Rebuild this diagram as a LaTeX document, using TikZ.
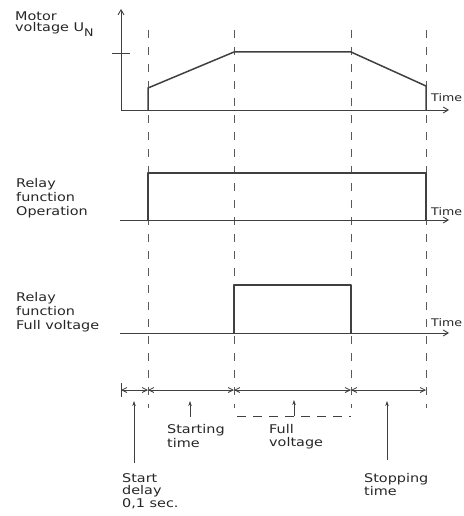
\documentclass[tikz,border=0pt]{standalone}
\usepackage{fontspec}
\setmainfont{DejaVu Sans}[FakeStretch=1.2]
\usetikzlibrary{arrows.meta}
\begin{document}
\begin{tikzpicture}[x=1pt,y=-1pt,
    axis/.style={line width=0.9pt,draw=black!75,-{Straight Barb[length=5pt,width=6pt]}},
    sig/.style={line width=1.5pt,draw=black!75,line join=round},
    guide/.style={line width=0.6pt,draw=black!65,dash pattern=on 8pt off 9pt},
    span/.style={line width=0.8pt,draw=black!75,{Straight Barb[length=5pt,width=5pt]}-{Straight Barb[length=5pt,width=5pt]}},
    ptr/.style={line width=0.8pt,draw=black!75,-{Stealth[length=5pt,width=3.5pt]}},
    lbl/.style={anchor=base west,align=left,inner sep=0pt,text=black!85,font=\fontsize{12}{14}\selectfont},
    timelbl/.style={anchor=base west,inner sep=0pt,text=black!85,font=\fontsize{10.5}{12}\selectfont}]
  \useasboundingbox (0,0) rectangle (463,516);
  \foreach \x in {148,234,351,426}
    \draw[guide] (\x,30) -- (\x,408);
  % motor voltage
  \coordinate (o1) at (121,110);
  \coordinate (e1) at (449,110);
  \draw[axis] (o1) -- (121,9);
  \draw[axis] (o1) -- (e1);
  \draw[line width=0.9pt,black!75] (112,53) -- (130,53);
  \draw[sig] (148,110) -- (148,88) -- (234,52) -- (351,52) -- (426,86) -- (426,110);
  \node[lbl,font=\fontsize{12}{11}\selectfont] (motor) at (15,32) {Motor\\voltage U\raisebox{-5pt}{\fontsize{10.5}{10}\selectfont N}};
  \node[timelbl] (time1) at (431,102) {Time};
  % operation
  \coordinate (o2) at (120,220);
  \coordinate (e2) at (449,220);
  \draw[axis] (o2) -- (e2);
  \draw[sig] (148,220) -- (148,173) -- (426,173) -- (426,220);
  \node[lbl] (oper) at (16,215) {Relay\\function\\Operation};
  \node[timelbl] (time2) at (431,215) {Time};
  % full voltage
  \coordinate (o3) at (120,333);
  \coordinate (e3) at (449,333);
  \draw[axis] (o3) -- (e3);
  \draw[sig] (234,333) -- (234,285) -- (351,285) -- (351,333);
  \node[lbl] (full) at (16,329) {Relay\\function\\Full voltage};
  \node[timelbl] (time3) at (431,326) {Time};
  % time spans
  \foreach \n/\x in {0/121,1/148,2/234,3/351,4/426}
    \coordinate (t\n) at (\x,390);
  \draw[line width=0.8pt,black!75] (121,383) -- (121,397);
  \draw[span] (t0) -- (t1);
  \draw[span] (t1) -- (t2);
  \draw[span] (t2) -- (t3);
  \draw[span] (t3) -- (t4);
  \draw[line width=1pt,black!75,dash pattern=on 9pt off 7pt] (237,416) -- (351,416);
  \node[lbl,font=\fontsize{12}{14}\selectfont] (startt) at (167,447) {Starting\\time};
  \node[lbl,font=\fontsize{12}{13}\selectfont] (fullv) at (269,446) {Full\\voltage};
  \node[lbl,font=\fontsize{12}{12.5}\selectfont] (sdelay) at (122,507) {Start\\delay\\0,1 sec.};
  \node[lbl,font=\fontsize{12}{13}\selectfont] (stopt) at (364,495) {Stopping\\time};
  \coordinate (sdbot) at (134,463);
  \coordinate (sdtop) at (134,401);
  \coordinate (stbot) at (190,417);
  \coordinate (sttop) at (190,401);
  \coordinate (fvbot) at (294,416);
  \coordinate (fvtop) at (294,400);
  \coordinate (spbot) at (387,460);
  \coordinate (sptop) at (387,401);
  \draw[ptr] (sdbot) -- (sdtop);
  \draw[ptr] (stbot) -- (sttop);
  \draw[ptr] (fvbot) -- (fvtop);
  \draw[ptr] (spbot) -- (sptop);
\end{tikzpicture}
\end{document}
